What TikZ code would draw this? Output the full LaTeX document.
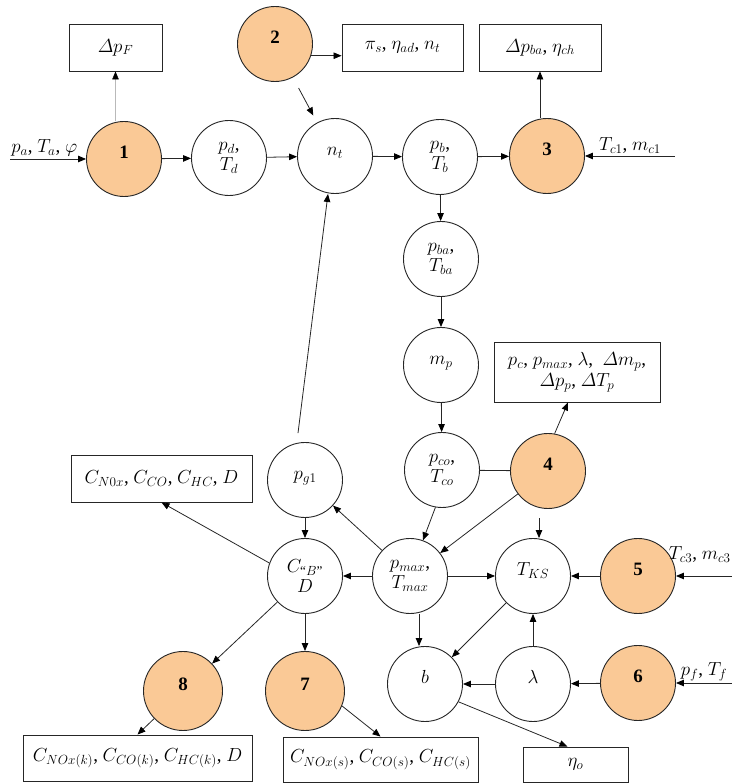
\RequirePackage{fix-cm}
\documentclass[tikz,border=0pt]{standalone}
\usepackage{amsmath}
\usepackage{fontspec}
\setmainfont{Liberation Serif}
\usetikzlibrary{arrows.meta}

\definecolor{peach}{RGB}{250,201,150}

\begin{document}
\begin{tikzpicture}[x=1bp,y=1bp,
    state/.style={circle,draw=black!85,line width=0.9bp,minimum size=75bp,inner sep=0pt,align=center,font=\fontsize{19}{20}\selectfont},
    one/.style={text height=7bp,text depth=7bp},
    block/.style={state,one,fill=peach,font=\fontsize{19}{20}\selectfont\bfseries},
    outbox/.style={rectangle,draw=black!85,line width=0.9bp,inner sep=0pt,align=center,font=\fontsize{19}{21}\selectfont},
    arw/.style={-{Triangle[length=8bp,width=6.5bp,black]},line width=0.8bp,draw=black!85},
    link/.style={line width=0.8bp,draw=black!85},
    inlbl/.style={font=\fontsize{19}{20}\selectfont,inner sep=2bp}]
    \useasboundingbox (0,0) rectangle (732,783);

    % top row
    \node[block] (n1) at (124,624) {1};
    \node[state] (pd) at (229,625) {$p_d$,\\$T_d$};
    \node[state,one] (nt) at (335,627) {$n_t$};
    \node[state] (pb) at (440,626) {$p_b$,\\$T_b$};
    \node[block] (n3) at (547,627) {3};
    \node[block] (n2) at (275,739) {2};
    \node[outbox,minimum width=93bp,minimum height=47bp] (dpF) at (115.5,735.5) {$\varDelta p_F$};
    \node[outbox,minimum width=121bp,minimum height=47bp] (pis) at (402.5,735.5) {$\pi_s$, $\eta_{ad}$, $n_t$};
    \node[outbox,minimum width=122bp,minimum height=47bp] (dpba) at (540,735.5) {$\varDelta p_{ba}$, $\eta_{ch}$};

    % column under p_b
    \node[state] (pba) at (441,524) {$p_{ba}$,\\$T_{ba}$};
    \node[state,one] (mp) at (441,418) {$m_p$};
    \node[state] (pco) at (442,313) {$p_{co}$,\\$T_{co}$};
    \node[block] (n4) at (548,312) {4};
    \node[outbox,minimum width=166bp,minimum height=60bp] (res4) at (577,411) {$p_c$, $p_{max}$, $\lambda$, \ $\varDelta m_p$,\\$\varDelta p_p$, $\varDelta T_p$};

    % middle row
    \node[state,one] (pg) at (305,303) {$p_{g1}$};
    \node[state] (cb) at (305,207) {$C_{\text{``}B\text{''}}$\\$D$};
    \node[state] (pmax) at (410,207) {$p_{max}$,\\$T_{max}$};
    \node[state,one] (tks) at (533,207) {$T_{KS}$};
    \node[block] (n5) at (638,207) {5};
    \node[outbox,minimum width=181bp,minimum height=47bp] (emis) at (161.5,304.5) {$C_{N0x}$, $C_{CO}$, $C_{HC}$, $D$};

    % bottom row
    \node[block,minimum size=79bp] (n8) at (183,92) {8};
    \node[block,minimum size=79bp] (n7) at (305,92) {7};
    \node[state,one] (b) at (425,99) {$b$};
    \node[state,one] (lam) at (533,99) {$\lambda$};
    \node[block] (n6) at (638,100) {6};
    \node[outbox,minimum width=229bp,minimum height=46bp] (res8) at (137.5,25) {$C_{NOx(k)}$, $C_{CO(k)}$, $C_{HC(k)}$, $D$};
    \node[outbox,minimum width=195bp,minimum height=45bp] (res7) at (380.5,23.5) {$C_{NOx(s)}$, $C_{CO(s)}$, $C_{HC(s)}$};
    \node[outbox,minimum width=105bp,minimum height=35bp] (eta) at (575.5,18.5) {$\eta_o$};

    % inputs
    \coordinate (ina) at (10,624);
    \coordinate (inc1) at (675,627);
    \coordinate (inc3) at (732,207);
    \coordinate (inf) at (732,100);
    \draw[arw] (ina) -- node[above,inlbl,pos=0.45] {$p_a$, $T_a$, $\varphi$} (n1);
    \draw[arw] (inc1) -- node[above,inlbl] {$T_{c1}$, $m_{c1}$} (n3);
    \draw[arw] (inc3) -- node[pos=0,anchor=south east,yshift=12bp,inlbl,inner sep=1bp] {$T_{c3}$, $m_{c3}$} (n5);
    \draw[arw] (inf) -- node[above,inlbl] {$p_f$, $T_f$} (n6);

    % top connectors
    \draw[arw] (n1) -- (pd);
    \draw[arw] (pd) -- (nt);
    \draw[arw] (nt) -- (pb);
    \draw[arw] (pb) -- (n3);
    \draw[arw,draw=gray!55,line width=0.5bp] (dpF.south |- n1.north) -- (dpF.south);
    \draw[arw] (n2.-18) -- (n2.-18 -| pis.west);
    \draw[arw,shorten <=12bp,shorten >=8bp] (n2) -- (nt);
    \draw[arw] (dpba.south |- n3.north) -- (dpba.south);

    % column connectors
    \draw[arw] (pb) -- (pba);
    \draw[arw] (pba) -- (mp);
    \draw[arw] (mp) -- (pco);
    \draw[link] (pco) -- (n4);
    \draw[arw] (n4.80) -- ([xshift=-9bp]res4.south);
    \draw[arw] (pco.260) -- (pmax.70);
    \draw[arw] (n4) -- (pmax);

    % middle connectors
    \draw[arw] (pmax) -- (cb);
    \draw[arw] (pmax) -- (tks);
    \draw[arw] (pmax) -- (pg);
    \draw[arw] (n5) -- (tks);
    \draw[arw] ([xshift=6bp,yshift=20bp]tks.north) -- ([xshift=6bp]tks.north);
    \draw[arw] (pg) -- (cb);
    \draw[arw] ([shift={(-7bp,9bp)}]pg.north) -- ([xshift=-7bp]nt.south);
    \draw[arw] (cb.160) -- (emis.south);

    % bottom connectors
    \draw[arw] (tks) -- (b);
    \draw[arw] (lam) -- (tks);
    \draw[arw] (lam) -- (b);
    \draw[arw] (n6) -- (lam);
    \draw[arw] ([xshift=9bp]pmax.south) -- ([xshift=9bp]pmax.south |- b.north);
    \draw[arw] (b.-28) -- ([xshift=-8bp]eta.north);
    \draw[arw] (cb) -- (n7);
    \draw[arw] (cb) -- (n8);
    \draw[arw] (n8) -- (res8.north);
    \draw[arw] (n7.-22) -- (res7.north);
\end{tikzpicture}
\end{document}
